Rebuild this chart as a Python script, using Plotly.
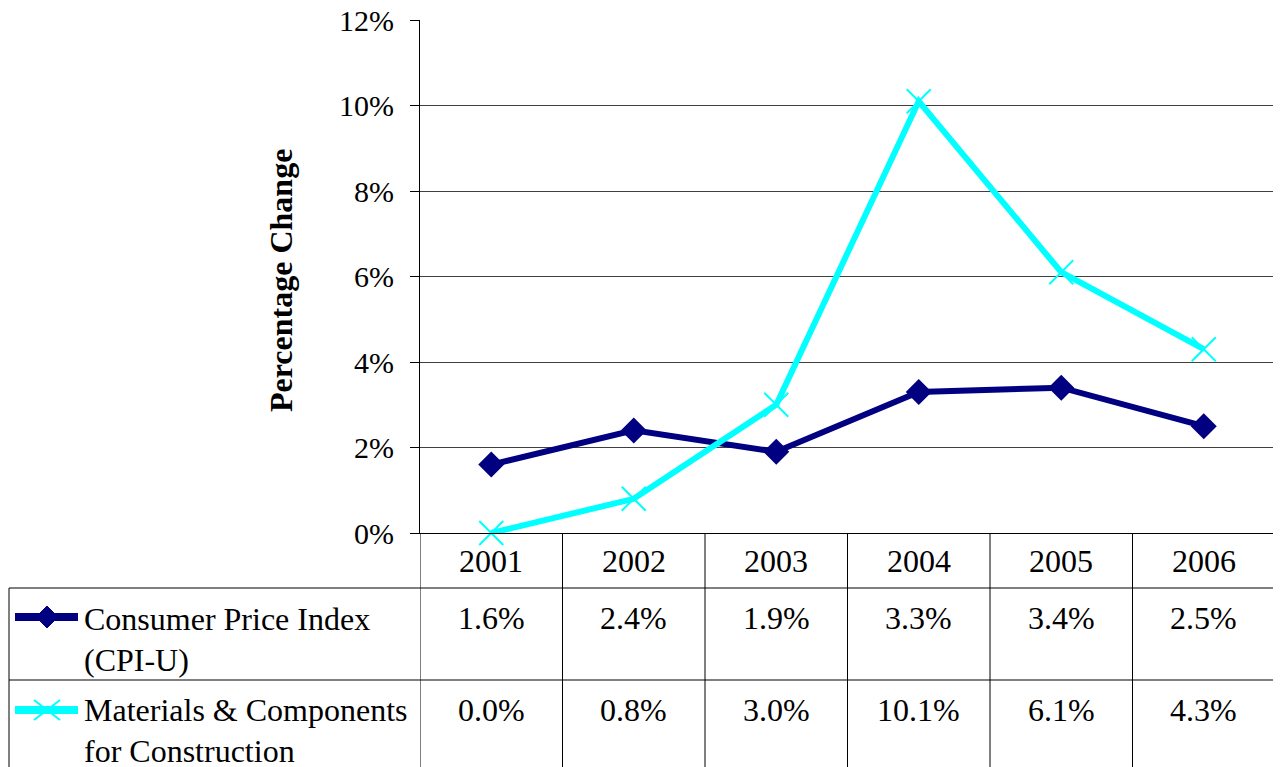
import plotly.graph_objects as go

years = ["2001", "2002", "2003", "2004", "2005", "2006"]
cpi = [1.6, 2.4, 1.9, 3.3, 3.4, 2.5]
materials = [0.0, 0.8, 3.0, 10.1, 6.1, 4.3]
series_names = [["Consumer Price Index", "(CPI-U)"], ["Materials & Components", "for Construction"]]
y_ticks = [0, 2, 4, 6, 8, 10, 12]

# The page places the figure 8px from the top-left corner (body margin),
# so the figure is sized to end exactly at the window edge.
OX, OY = 8, 8
W, H = 1281 - OX, 767 - OY
FONT = "Liberation Serif"
FS = 30
TFS = 32
NAVY = "#000080"
CYAN = "#00FFFF"

def px(x):
    return (x - OX) / W

def py(y):
    return 1 - (y - OY) / H

# layout positions (window pixels)
PL, PR, PT, PB = 420, 1275, 20, 533
ROW1, ROW2 = 588, 680
TL = 9
NCOL = len(years)

def col_center(i):
    return px(PL) + (i + 0.5) / NCOL * (px(PR) - px(PL))

fig = go.Figure()
fig.add_trace(go.Scatter(
    x=years, y=cpi, mode="lines+markers", name="CPI",
    line=dict(color=NAVY, width=6),
    marker=dict(symbol="diamond", size=20, color=NAVY),
    cliponaxis=False, showlegend=False))
fig.add_trace(go.Scatter(
    x=years, y=materials, mode="lines+markers", name="Materials",
    line=dict(color=CYAN, width=6),
    marker=dict(symbol="x-thin", size=24, color=CYAN, line=dict(color=CYAN, width=2)),
    cliponaxis=False, showlegend=False))

shapes = []
# vertical table lines at category boundaries
for i in range(NCOL + 1):
    shapes.append(dict(type="line", xref="x", yref="paper", x0=i - 0.5, x1=i - 0.5,
                       y0=0, y1=py(PB), line=dict(color="black", width=1)))
# left table border
shapes.append(dict(type="line", xref="paper", yref="paper", x0=px(TL), x1=px(TL),
                   y0=0, y1=py(ROW1), line=dict(color="black", width=1)))
for ry in (ROW1, ROW2):
    shapes.append(dict(type="line", xref="paper", yref="paper", x0=px(TL), x1=px(PR),
                       y0=py(ry), y1=py(ry), line=dict(color="black", width=1)))

# legend keys
key_x0, key_x1, key_mx = 15, 78, 47
for (color, cy, kind) in ((NAVY, 617, "diamond"), (CYAN, 710, "x")):
    shapes.append(dict(type="line", xref="paper", yref="paper", x0=px(key_x0), x1=px(key_x1),
                       y0=py(cy), y1=py(cy), line=dict(color=color, width=8)))
    if kind == "diamond":
        rx, ry_ = 11, 11
        path = (f"M {px(key_mx)},{py(cy - ry_)} L {px(key_mx + rx)},{py(cy)} "
                f"L {px(key_mx)},{py(cy + ry_)} L {px(key_mx - rx)},{py(cy)} Z")
        shapes.append(dict(type="path", xref="paper", yref="paper", path=path,
                           fillcolor=color, line=dict(color=color, width=1)))
    else:
        rx, ry_ = 13, 10
        for s in (1, -1):
            shapes.append(dict(type="line", xref="paper", yref="paper",
                               x0=px(key_mx - rx), x1=px(key_mx + rx),
                               y0=py(cy - s * ry_), y1=py(cy + s * ry_),
                               line=dict(color=color, width=2)))

annotations = []
tfont = dict(family=FONT, size=TFS, color="black")
# header years and values
for i, yr in enumerate(years):
    for text, yy in ((yr, 561), (f"{cpi[i]:.1f}%", 618), (f"{materials[i]:.1f}%", 710)):
        annotations.append(dict(x=col_center(i), y=py(yy), xref="paper", yref="paper", text=text,
                                showarrow=False, font=tfont, xanchor="center", yanchor="middle"))
# legend labels
for lines, y0 in zip(series_names, (619, 710)):
    for k, t in enumerate(lines):
        annotations.append(dict(x=px(82), y=py(y0 + 41 * k), xref="paper", yref="paper", text=t,
                                showarrow=False, font=tfont, xanchor="left", yanchor="middle"))
# y axis title
annotations.append(dict(x=px(281), y=py(281), xref="paper", yref="paper",
                        text="<b>Percentage Change</b>", textangle=-90, showarrow=False,
                        font=dict(family=FONT, size=TFS, color="black"),
                        xanchor="center", yanchor="middle"))

fig.update_layout(
    width=W, height=H,
    template="none",
    margin=dict(l=0, r=0, t=0, b=0, pad=0, autoexpand=False),
    paper_bgcolor="white", plot_bgcolor="white",
    font=dict(family=FONT, size=FS, color="black"),
    shapes=shapes, annotations=annotations,
    xaxis=dict(type="category", domain=[px(PL), px(PR)], range=[-0.5, NCOL - 0.5],
               showticklabels=False, automargin=False,
               showgrid=False, showline=True, linecolor="black", linewidth=1,
               zeroline=False, ticks=""),
    yaxis=dict(domain=[py(PB), py(PT)], range=[0, 12], tickvals=y_ticks, automargin=False,
               ticktext=[f"{v}%" for v in y_ticks], ticks="outside", ticklen=9,
               tickcolor="black", showline=True, linecolor="black", linewidth=1,
               showgrid=True, gridcolor="#404040", gridwidth=1, zeroline=False,
               ticklabeloverflow="allow",
               tickfont=dict(family=FONT, size=FS, color="black"), ticklabelstandoff=10),
)

fig.write_html("out.html")
